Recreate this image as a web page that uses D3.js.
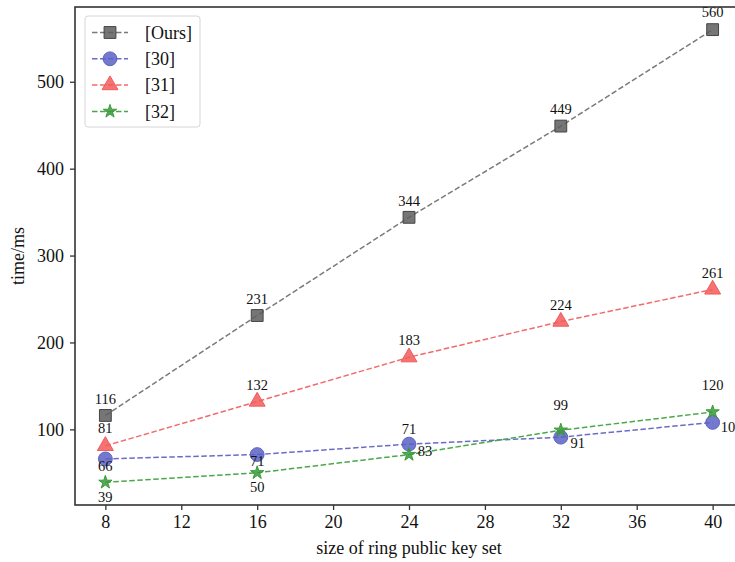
<!DOCTYPE html>
<html>
<head>
<meta charset="utf-8">
<script src="https://cdn.jsdelivr.net/npm/d3@7"></script>
<style>
  body { margin: 0; background: #fff; }
  svg { display: block; font-family: "Liberation Serif", "DejaVu Serif", serif; }
</style>
</head>
<body>
<div id="chart"></div>
<script>
// ring size on x axis
const sizes = [8, 16, 24, 32, 40];
const xTicks = [8, 12, 16, 20, 24, 28, 32, 36, 40];
const yTicks = [100, 200, 300, 400, 500];

const seriesNames = ["[Ours]", "[30]", "[31]", "[32]"];
const oursTimes = [116, 231, 344, 449, 560];
const ref30Times = [66, 71, 83, 91, 108];
const ref31Times = [81, 132, 183, 224, 261];
const ref32Times = [39, 50, 71, 99, 120];

// printed labels (as they appear in the figure)
const ref30Labels = ["66", "71", "71", "91", "108"];
const ref32Labels = ["39", "50", "83", "99", "120"];

const width = 735, height = 562;
const margin = { top: 7, right: -8, bottom: 57, left: 75 };

const svg = d3.select("#chart").append("svg")
    .attr("width", width)
    .attr("height", height);

const x = d3.scaleLinear()
    .domain([6.4, 41.6])
    .range([margin.left, width - margin.right]);

const y = d3.scaleLinear()
    .domain([12.95, 586.05])
    .range([height - margin.bottom, margin.top]);

const series = [
    { name: seriesNames[0], values: oursTimes, labels: oursTimes.map(String),
      line: "#7a7a7a", fill: "#5e5e5e", stroke: "#444", marker: d3.symbolSquare, size: 140,
      offsets: [[0, -17], [0, -17], [0, -16], [0, -17], [0, -18]] },
    { name: seriesNames[1], values: ref30Times, labels: ref30Labels,
      line: "#6b6bc6", fill: "#5a62c4", stroke: "#5a62c4", marker: d3.symbolCircle, size: 150,
      offsets: [[0, 7], [0, 6], [0, -15], [17, 6], [19, 5]] },
    { name: seriesNames[2], values: ref31Times, labels: ref31Times.map(String),
      line: "#f36a6a", fill: "#f25a5a", stroke: "#f25a5a", marker: d3.symbolTriangle, size: 110,
      offsets: [[0, -18], [0, -17], [0, -17], [0, -17], [0, -17]] },
    { name: seriesNames[3], values: ref32Times, labels: ref32Labels,
      line: "#4aa84a", fill: "#3a9a3a", stroke: "#3a9a3a", marker: d3.symbolStar, size: 55,
      offsets: [[0, 15], [0, 14], [16, -4], [0, -25], [0, -27]] }
];

const plot = svg.append("g");

// axes
const xAxis = svg.append("g")
    .attr("transform", `translate(0,${height - margin.bottom})`)
    .call(d3.axisBottom(x).tickValues(xTicks).tickSize(5).tickPadding(5));
const yAxis = svg.append("g")
    .attr("transform", `translate(${margin.left},0)`)
    .call(d3.axisLeft(y).tickValues(yTicks).tickSize(5).tickPadding(6));

[xAxis, yAxis].forEach(a => {
    a.select(".domain").remove();
    a.selectAll("line").attr("stroke", "#333").attr("stroke-width", 1.3);
    a.selectAll("text").attr("fill", "#111").style("font-size", "18px")
        .style("font-family", "Liberation Serif, serif");
});

// frame
svg.append("rect")
    .attr("x", margin.left)
    .attr("y", margin.top)
    .attr("width", x.range()[1] - margin.left)
    .attr("height", height - margin.bottom - margin.top)
    .attr("fill", "none")
    .attr("stroke", "#333")
    .attr("stroke-width", 1.6);

const line = d3.line()
    .x((d, i) => x(sizes[i]))
    .y(d => y(d));

series.forEach(s => {
    plot.append("path")
        .datum(s.values)
        .attr("d", line)
        .attr("fill", "none")
        .attr("stroke", s.line)
        .attr("stroke-width", 1.5)
        .attr("stroke-dasharray", "5.5,2.5");

    plot.selectAll(null)
        .data(s.values)
        .enter().append("path")
        .attr("transform", (d, i) => `translate(${x(sizes[i])},${y(d)})`)
        .attr("d", d3.symbol().type(s.marker).size(s.size))
        .attr("fill", s.fill)
        .attr("fill-opacity", 0.85)
        .attr("stroke", s.stroke)
        .attr("stroke-width", 1);
});

series.forEach(s => {
    plot.selectAll(null)
        .data(s.values)
        .enter().append("text")
        .attr("x", (d, i) => x(sizes[i]) + s.offsets[i][0])
        .attr("y", (d, i) => y(d) + s.offsets[i][1])
        .attr("dy", "0.35em")
        .attr("text-anchor", "middle")
        .attr("fill", "#111")
        .style("font-size", "14.5px")
        .text((d, i) => s.labels[i]);
});

// axis titles
svg.append("text")
    .attr("x", (margin.left + x.range()[1]) / 2)
    .attr("y", 548)
    .attr("dy", "0.35em")
    .attr("text-anchor", "middle")
    .attr("fill", "#111")
    .style("font-size", "18px")
    .text("size of ring public key set");

svg.append("text")
    .attr("transform", `translate(18,${(margin.top + height - margin.bottom) / 2}) rotate(-90)`)
    .attr("dy", "0.35em")
    .attr("text-anchor", "middle")
    .attr("fill", "#111")
    .style("font-size", "18px")
    .text("time/ms");

// legend
const legend = svg.append("g").attr("transform", "translate(85,16)");
legend.append("rect")
    .attr("width", 115).attr("height", 111)
    .attr("rx", 3)
    .attr("fill", "#fff")
    .attr("fill-opacity", 0.8)
    .attr("stroke", "#d6d6d6");

series.forEach((s, i) => {
    const g = legend.append("g").attr("transform", `translate(0,${16.5 + i * 26.3})`);
    g.append("line")
        .attr("x1", 7).attr("x2", 43)
        .attr("stroke", s.line)
        .attr("stroke-width", 1.5)
        .attr("stroke-dasharray", "5.5,2.5");
    g.append("path")
        .attr("transform", "translate(25,0)")
        .attr("d", d3.symbol().type(s.marker).size(s.size))
        .attr("fill", s.fill)
        .attr("fill-opacity", 0.85)
        .attr("stroke", s.stroke);
    g.append("text")
        .attr("x", 60)
        .attr("dy", "0.35em")
        .attr("fill", "#111")
        .style("font-size", "18px")
        .text(s.name);
});
</script>
</body>
</html>
